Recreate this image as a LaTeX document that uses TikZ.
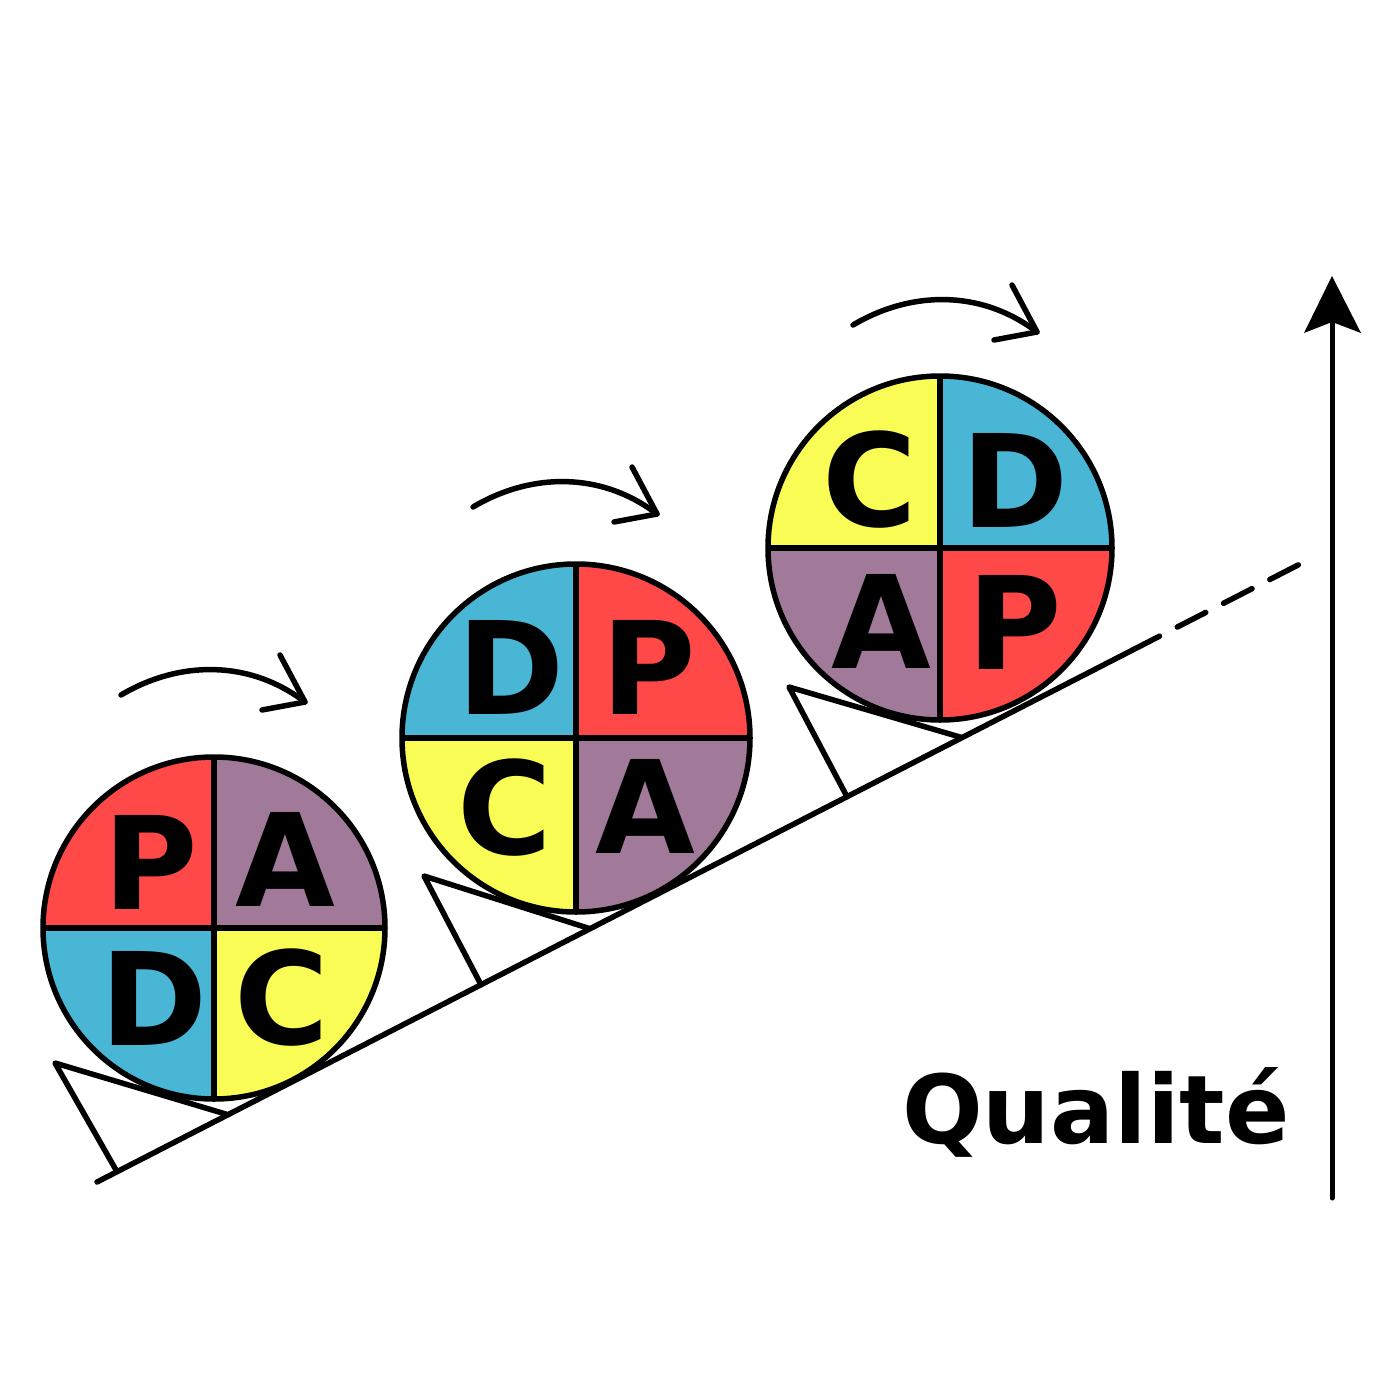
\documentclass[tikz,border=0pt]{standalone}
\usepackage{fontspec}
\setmainfont{DejaVu Sans}
\usetikzlibrary{calc}
\definecolor{qred}{RGB}{255,72,72}
\definecolor{qpurple}{RGB}{160,122,152}
\definecolor{qblue}{RGB}{74,182,214}
\definecolor{qyellow}{RGB}{248,252,84}
\newcommand\quaddisc[8]{%
  \coordinate (#1) at (#2,#3);
  \begin{scope}
    \clip (#1) circle[radius=#4];
    \fill[#5] (#1) rectangle ++(-#4,-#4);
    \fill[#6] (#1) rectangle ++(#4,-#4);
    \fill[#7] (#1) rectangle ++(-#4,#4);
    \fill[#8] (#1) rectangle ++(#4,#4);
  \end{scope}
  \draw[outline] ($(#1)+(-#4,0)$) -- ($(#1)+(#4,0)$);
  \draw[outline] ($(#1)+(0,-#4)$) -- ($(#1)+(0,#4)$);
  \draw[outline] (#1) circle[radius=#4];
}
\begin{document}
\begin{tikzpicture}[x=1pt,y=-1pt,
  outline/.style={line width=5.5pt},
  letter/.style={inner sep=0pt, font=\fontsize{129}{130}\selectfont\bfseries},
  turn/.style={line width=5.5pt, line cap=round, line join=round},
  wedge/.style={line width=5.5pt, line join=round, line cap=round},
]
\useasboundingbox (0,0) rectangle (1400,1400);

% slope
\coordinate (S) at (97,1182);
\coordinate (E) at (1300,564);
\draw[line width=5.5pt, line cap=round,
  dash pattern=on 1194.5pt off 20pt on 32pt off 20pt on 32pt off 20pt on 32pt] (S) -- (E);

% wedges
\coordinate (w1a) at (55,1063); \coordinate (w1b) at (117,1171.7); \coordinate (w1c) at (228,1114.7);
\coordinate (w2a) at (424,876); \coordinate (w2b) at (481,984.7); \coordinate (w2c) at (590,928.7);
\coordinate (w3a) at (789,687); \coordinate (w3b) at (847,796.7); \coordinate (w3c) at (962,737.6);
\draw[wedge] (w1b) -- (w1a) -- (w1c);
\draw[wedge] (w2b) -- (w2a) -- (w2c);
\draw[wedge] (w3b) -- (w3a) -- (w3c);

% discs
\quaddisc{c1}{214}{928}{171}{qred}{qpurple}{qblue}{qyellow}
\quaddisc{c2}{576}{738}{174}{qblue}{qred}{qyellow}{qpurple}
\quaddisc{c3}{940}{548}{172}{qyellow}{qblue}{qpurple}{qred}

% letters
\node[letter] (c1P) at (151,862) {P};
\node[letter] (c1A) at (285,859) {A};
\node[letter] (c1D) at (154,998) {D};
\node[letter] (c1C) at (282,998) {C};
\node[letter] (c2D) at (511,667) {D};
\node[letter] (c2P) at (649,667) {P};
\node[letter] (c2C) at (505,808) {C};
\node[letter] (c2A) at (645,806) {A};
\node[letter] (c3C) at (870,480) {C};
\node[letter] (c3D) at (1015,480) {D};
\node[letter] (c3A) at (881,621) {A};
\node[letter] (c3P) at (1015,622) {P};

% rotation arrows
\coordinate (a1s) at (121,695); \coordinate (a1e) at (305,702);
\coordinate (a1h) at (280,655); \coordinate (a1k) at (262,710);
\draw[turn] (a1s) .. controls (180,660) and (250,660) .. (a1e);
\draw[turn] (a1h) -- (a1e) -- (a1k);
\coordinate (a2s) at (473,507); \coordinate (a2e) at (657,514);
\coordinate (a2h) at (632,467); \coordinate (a2k) at (614,522);
\draw[turn] (a2s) .. controls (532,472) and (602,472) .. (a2e);
\draw[turn] (a2h) -- (a2e) -- (a2k);
\coordinate (a3s) at (853,325); \coordinate (a3e) at (1037,332);
\coordinate (a3h) at (1012,285); \coordinate (a3k) at (994,340);
\draw[turn] (a3s) .. controls (912,290) and (982,290) .. (a3e);
\draw[turn] (a3h) -- (a3e) -- (a3k);

% quality axis
\coordinate (ax0) at (1332,1198);
\coordinate (axn) at (1332,322);
\coordinate (axt) at (1332,276);
\coordinate (axl) at (1304,333);
\coordinate (axr) at (1361,333);
\draw[line width=5pt, line cap=round] (ax0) -- (1332,315);
\fill (axt) -- (axr) -- (axn) -- (axl) -- cycle;

\node[anchor=base west, inner sep=0pt, font=\fontsize{95}{100}\selectfont\bfseries] (q) at (902,1143) {Qualité};
\end{tikzpicture}
\end{document}
